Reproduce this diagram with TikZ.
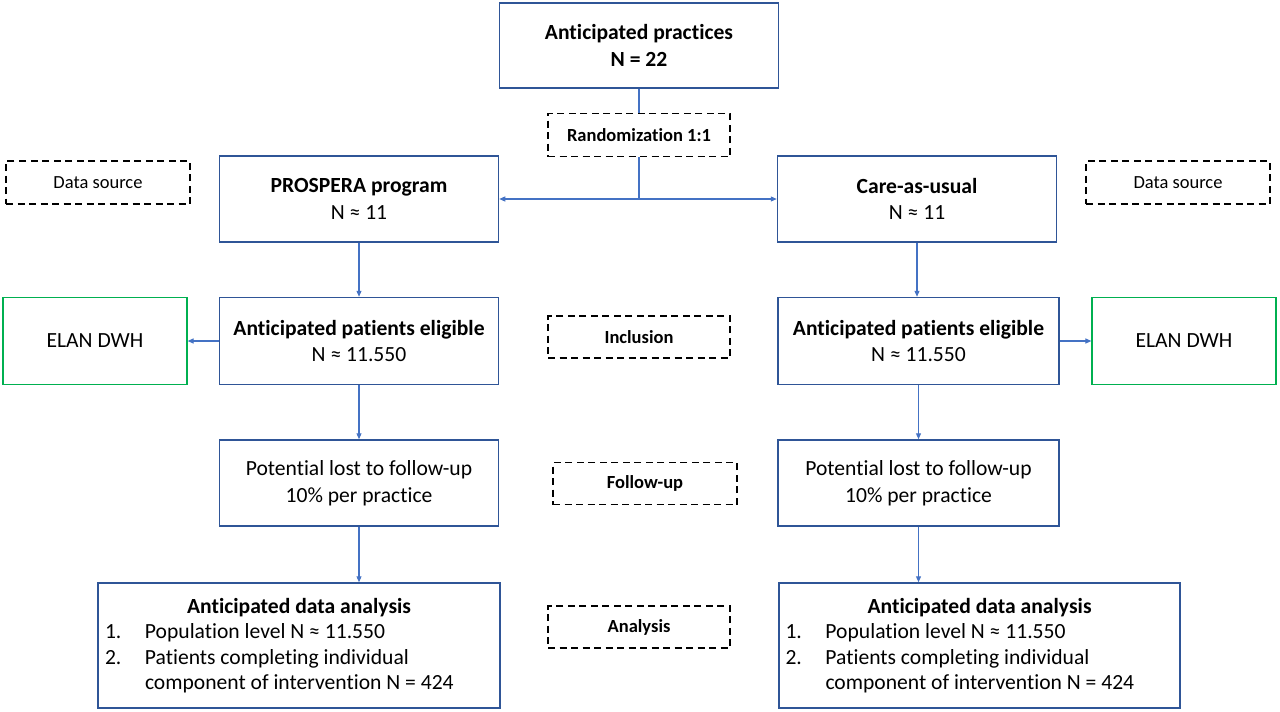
\documentclass[tikz,border=0pt]{standalone}
\usepackage{fontspec}
\setmainfont{Carlito}[Ligatures=NoCommon]
\usetikzlibrary{arrows.meta,positioning}
\definecolor{boxblue}{RGB}{47,85,151}
\definecolor{lineblue}{RGB}{68,114,196}
\definecolor{elangreen}{RGB}{0,176,80}
\tikzset{
  box/.style={draw=boxblue, line width=1.5pt, inner sep=0pt, align=center,
    font=\fontsize{21.6}{26.5}\selectfont},
  phase/.style={draw=black, line width=1.2pt, dash pattern=on 7pt off 4.5pt,
    inner sep=0pt, align=center, font=\fontsize{18.5}{20}\selectfont\bfseries},
  source/.style={draw=elangreen, line width=1.2pt, inner sep=0pt,
    font=\fontsize{21.6}{24}\selectfont},
  arr/.style={draw=lineblue, line width=1.1pt, -{Triangle[length=6pt,width=5pt]}},
  link/.style={draw=lineblue, line width=1.1pt}
}
\newcommand{\itemline}[2]{\makebox[388pt][l]{\makebox[40pt][l]{#1}#2}}
\begin{document}
\begin{tikzpicture}[x=1pt,y=-1pt]
  \useasboundingbox (0,0) rectangle (1280,712);

  % Top and randomization
  \node[box, minimum width=279pt, minimum height=85pt] (practices) at (639,45.5)
    {\textbf{Anticipated practices}\\\textbf{N = 22}};
  \node[phase, minimum width=182pt, minimum height=43pt] (rand) at (639,135)
    {Randomization 1:1};

  % Arms
  \node[box, minimum width=279pt, minimum height=86pt] (prospera) at (359,199)
    {\textbf{PROSPERA program}\\N ≈ 11};
  \node[box, minimum width=279pt, minimum height=86pt] (care) at (917,199)
    {\textbf{Care-as-usual}\\N ≈ 11};
  \node[phase, font=\fontsize{18.5}{20}\selectfont, minimum width=184pt, minimum height=43pt]
    (srcL) at (98,182.5) {Data source};
  \node[phase, font=\fontsize{18.5}{20}\selectfont, minimum width=184pt, minimum height=43pt]
    (srcR) at (1178,182.5) {Data source};

  % Inclusion
  \node[box, minimum width=279pt, minimum height=87pt] (eligL) at (359,341)
    {\textbf{Anticipated patients eligible}\\N ≈ 11.550};
  \node[box, minimum width=281pt, minimum height=87pt] (eligR) at (918.5,341)
    {\textbf{Anticipated patients eligible}\\N ≈ 11.550};
  \node[source, minimum width=184pt, minimum height=87pt] (elanL) at (95,341) {ELAN DWH};
  \node[source, minimum width=184pt, minimum height=87pt] (elanR) at (1184,341) {ELAN DWH};
  \node[phase, minimum width=182pt, minimum height=42pt] (inclusion) at (639,337) {Inclusion};

  % Follow-up
  \node[box, minimum width=279pt, minimum height=86pt] (lostL) at (359,483)
    {Potential lost to follow-up\\10\% per practice};
  \node[box, minimum width=281pt, minimum height=86pt] (lostR) at (918.5,483)
    {Potential lost to follow-up\\10\% per practice};
  \node[phase, minimum width=184pt, minimum height=42pt] (followup) at (645,483.5) {Follow-up};

  % Analysis
  \node[box, font=\fontsize{21.6}{25.5}\selectfont, minimum width=402pt, minimum height=125pt]
    (analysisL) at (299,645.5)
    {\textbf{Anticipated data analysis}\\
     \itemline{1.}{Population level N ≈ 11.550}\\
     \itemline{2.}{Patients completing individual}\\
     \itemline{}{component of intervention N = 424}};
  \node[box, font=\fontsize{21.6}{25.5}\selectfont, minimum width=401pt, minimum height=125pt]
    (analysisR) at (979.5,645.5)
    {\textbf{Anticipated data analysis}\\
     \itemline{1.}{Population level N ≈ 11.550}\\
     \itemline{2.}{Patients completing individual}\\
     \itemline{}{component of intervention N = 424}};
  \node[phase, minimum width=182pt, minimum height=42pt] (analysis) at (639,627) {Analysis};

  % Connectors
  \coordinate (split) at (rand.south |- prospera.east);
  \draw[link] (practices.south) -- (rand.north);
  \draw[link] (rand.south) -- (split);
  \draw[arr] (split) -- (prospera.east);
  \draw[arr] (split) -- (care.west);
  \draw[arr] (prospera.south) -- (eligL.north);
  \draw[arr] (care.south) -- (care.south |- eligR.north);
  \draw[arr] (eligL.west) -- (elanL.east);
  \draw[arr] (eligR.east) -- (elanR.west);
  \draw[arr] (eligL.south) -- (lostL.north);
  \draw[arr] (eligR.south) -- (lostR.north);
  \draw[arr] (lostL.south) -- (lostL.south |- analysisL.north);
  \draw[arr] (lostR.south) -- (lostR.south |- analysisR.north);
\end{tikzpicture}
\end{document}
